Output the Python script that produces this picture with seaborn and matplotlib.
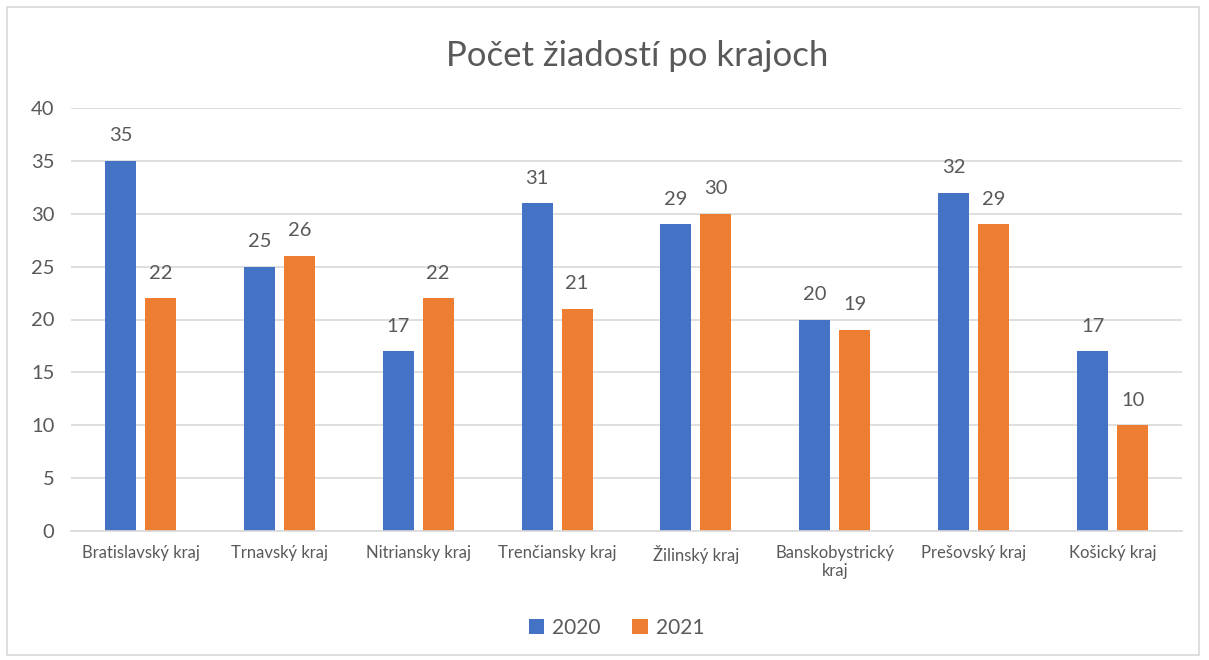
import matplotlib
matplotlib.use("Agg")
import matplotlib.pyplot as plt
import pandas as pd
import seaborn as sns
from matplotlib.patches import Rectangle

regions = ["Bratislavský kraj", "Trnavský kraj", "Nitriansky kraj", "Trenčiansky kraj",
           "Žilinský kraj", "Banskobystrický\nkraj", "Prešovský kraj", "Košický kraj"]
years = ["2020", "2021"]
values_2020 = [35, 25, 17, 31, 29, 20, 32, 17]
values_2021 = [22, 26, 22, 21, 30, 19, 29, 10]
colors = ["#4472C4", "#ED7D31"]

df = pd.DataFrame({
    "kraj": regions * 2,
    "rok": [years[0]] * len(regions) + [years[1]] * len(regions),
    "pocet": values_2020 + values_2021,
})

sns.set_style("white")
plt.rcParams["font.family"] = ["Lato", "DejaVu Sans"]
text_color = "#595959"

fig = plt.figure(figsize=(12.09, 6.6), dpi=100)
ax = fig.add_axes([71 / 1209, 1 - 531 / 660, 1111 / 1209, 423 / 660])

sns.barplot(data=df, x="kraj", y="pocet", hue="rok", palette=colors, saturation=1,
            width=0.576, gap=0.225, linewidth=0, ax=ax, legend=True)

for cont in ax.containers:
    ax.bar_label(cont, padding=12, fontsize=14.5, color=text_color)

ax.set_ylim(0, 40)
ax.set_xlim(-0.5, len(regions) - 0.5)
ax.set_yticks(range(0, 41, 5))
ax.yaxis.grid(True, color="#D9D9D9", linewidth=1.2)
ax.set_axisbelow(True)
for side in ["top", "right", "left"]:
    ax.spines[side].set_visible(False)
ax.spines["bottom"].set_color("#D9D9D9")
ax.spines["bottom"].set_linewidth(1.2)
ax.tick_params(axis="y", labelsize=14.5, colors=text_color, length=0, pad=12)
ax.tick_params(axis="x", labelsize=12, colors=text_color, length=0, pad=10)
ax.set_xlabel("")
ax.set_ylabel("")

fig.suptitle("Počet žiadostí po krajoch", x=0.527, y=0.94, fontsize=25, color=text_color)

ax.legend(loc="center", bbox_to_anchor=(0.51, 1 - 628 / 660), bbox_transform=fig.transFigure,
          ncol=2, frameon=False, fontsize=15, labelcolor=text_color,
          handlelength=0.75, handleheight=0.75, handletextpad=0.4, columnspacing=1.5)

fig.patches.append(Rectangle((7 / 1209, 5 / 660), 1192 / 1209, 648 / 660,
                             transform=fig.transFigure, fill=False,
                             edgecolor="#D9D9D9", linewidth=1.2))

fig.savefig("out.png", dpi=100)
